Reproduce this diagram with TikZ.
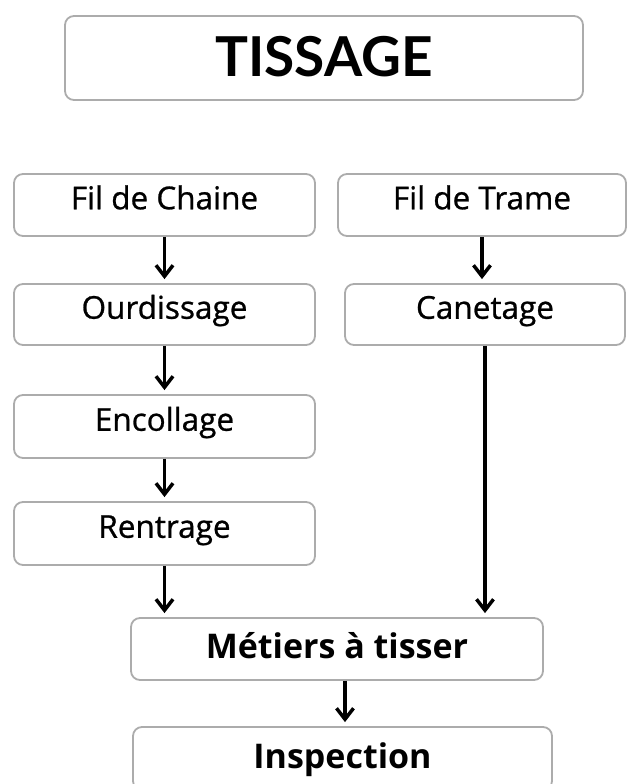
\documentclass[tikz,border=0pt]{standalone}
\usepackage{fontspec}
\setmainfont{Open Sans}
\newfontfamily\demifont{Open Sans}[FakeBold=0.8]
\newfontfamily\titrefont{Lato}
\usetikzlibrary{arrows.meta,positioning}

\tikzset{
  etape/.style={draw=gray!65, line width=1.8pt, rounded corners=9pt, fill=white,
    inner sep=0pt, text height=22.5pt, text depth=14pt,
    font=\demifont\fontsize{31.5}{33}\selectfont},
  final/.style={etape, text height=25pt, text depth=7pt,
    font=\bfseries\fontsize{34}{36}\selectfont},
  fleche/.style={line width=3.5pt, -{Straight Barb[length=11pt,width=17pt,line width=3.5pt]},
    shorten >=4pt}
}

\begin{document}
\begin{tikzpicture}[x=1pt,y=-1pt]
  \useasboundingbox (0,0) rectangle (627,784);

  \node[etape, minimum width=518pt, minimum height=84pt, text height=40pt, text depth=2pt,
    font=\titrefont\bfseries\fontsize{55}{57}\selectfont] (titre) at (324,58) {TISSAGE};

  \node[etape, minimum width=301pt, minimum height=62pt] (chaine) at (164.5,205) {Fil de Chaine};
  \node[etape, minimum width=288pt, minimum height=62pt] (trame) at (482,205) {Fil de Trame};
  \node[etape, minimum width=301pt, minimum height=61pt] (ourdissage) at (164.5,314.5) {Ourdissage};
  \node[etape, minimum width=280pt, minimum height=61pt] (canetage) at (485,314.5) {Canetage};
  \node[etape, minimum width=301pt, minimum height=63pt] (encollage) at (164.5,426.5) {Encollage};
  \node[etape, minimum width=301pt, minimum height=63pt] (rentrage) at (164.5,533.5) {Rentrage};
  \node[final, minimum width=412pt, minimum height=62pt] (metiers) at (337,649) {Métiers à tisser};
  \node[final, minimum width=419pt, minimum height=63pt, text depth=5pt]
    (inspection) at (342.5,758.5) {Inspection};

  \coordinate (arriveeG) at (metiers.north -| rentrage.south);
  \coordinate (arriveeD) at (metiers.north -| canetage.south);
  \coordinate (arriveeI) at (inspection.north -| 345,0);

  \draw[fleche] (chaine) -- (ourdissage);
  \draw[fleche] (trame) -- (trame |- canetage.north);
  \draw[fleche] (ourdissage) -- (encollage);
  \draw[fleche] (encollage) -- (rentrage);
  \draw[fleche] (rentrage) -- (arriveeG);
  \draw[fleche] (canetage) -- (arriveeD);
  \draw[fleche] (metiers.south -| arriveeI) -- (arriveeI);
\end{tikzpicture}
\end{document}
